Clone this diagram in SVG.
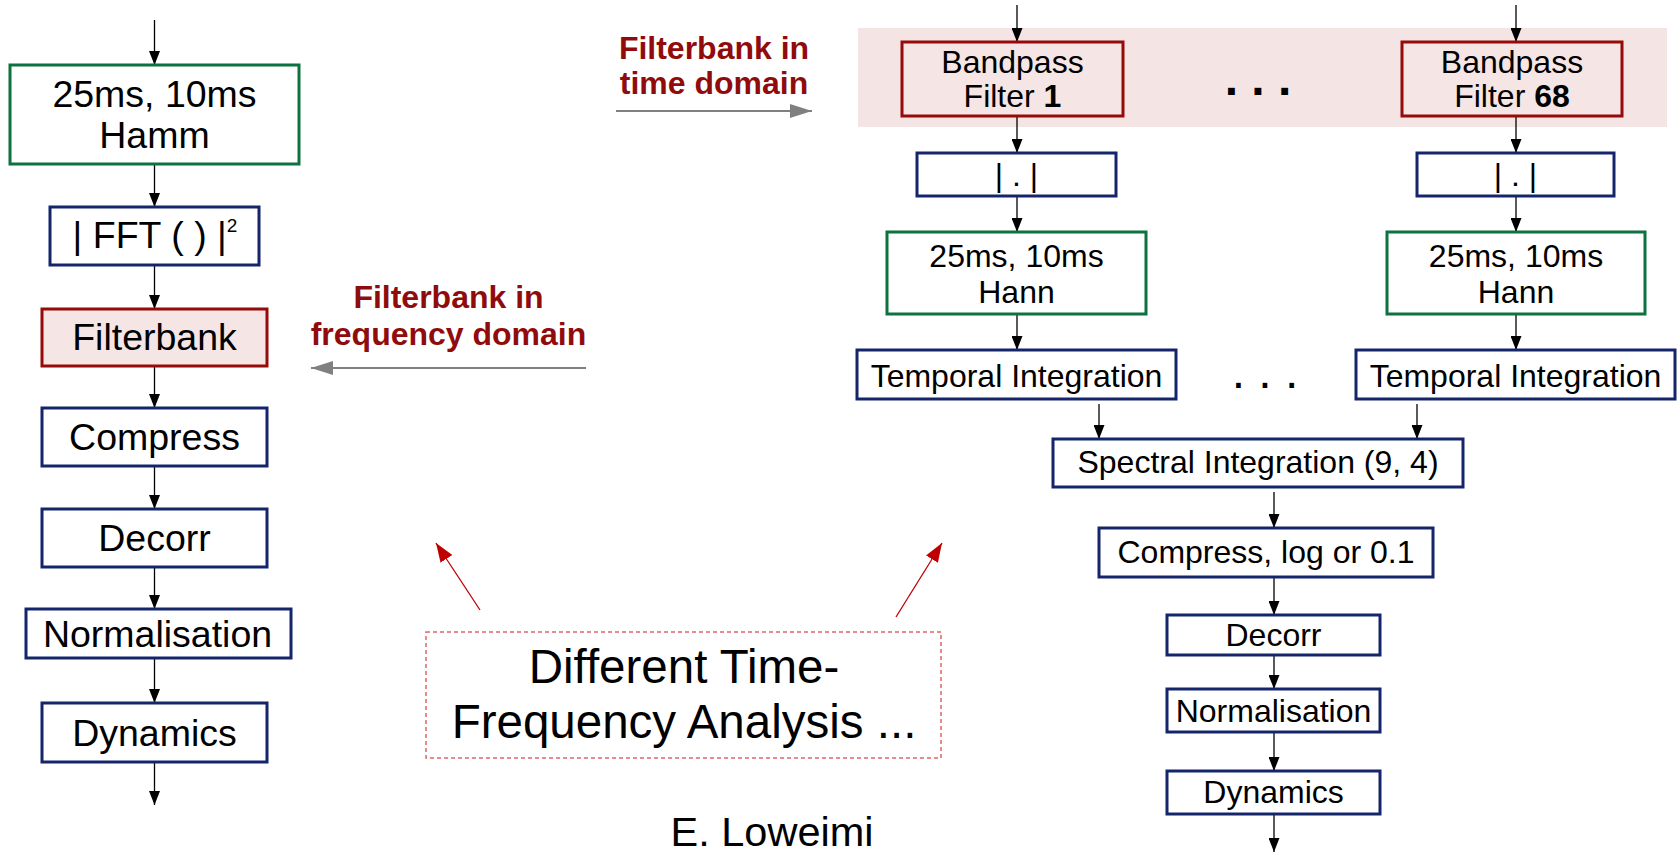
<svg xmlns="http://www.w3.org/2000/svg" width="1679" height="852" viewBox="0 0 1679 852">
<defs>
<style>
.bx{fill:#ffffff;stroke:#15256b;stroke-width:3}
.gr{fill:#ffffff;stroke:#0d7140;stroke-width:3}
.rd{fill:#f5e5e5;stroke:#960a0a;stroke-width:3}
.tl{font-family:"Liberation Sans",Arial,sans-serif;font-size:37.5px;fill:#000;text-anchor:middle}
.tr{font-family:"Liberation Sans",Arial,sans-serif;font-size:32px;fill:#000;text-anchor:middle}
.lab{font-family:"Liberation Sans",Arial,sans-serif;font-size:32px;font-weight:bold;fill:#900c0c;text-anchor:middle}
.big{font-family:"Liberation Sans",Arial,sans-serif;font-size:47.5px;fill:#000;text-anchor:middle}
.c{stroke:#000;stroke-width:1.3;fill:none;marker-end:url(#ah)}
.g{stroke:#808080;stroke-width:2;fill:none;marker-end:url(#ag)}
.r{stroke:#c00000;stroke-width:1.3;fill:none;marker-end:url(#ar)}
</style>
<marker id="ah" markerUnits="userSpaceOnUse" markerWidth="14" markerHeight="11" viewBox="0 0 14 11" refX="14" refY="5.5" orient="auto"><path d="M0,0 L14,5.5 L0,11 z" fill="#000"/></marker>
<marker id="ag" markerUnits="userSpaceOnUse" markerWidth="22" markerHeight="14" viewBox="0 0 22 14" refX="22" refY="7" orient="auto"><path d="M0,0 L22,7 L0,14 z" fill="#808080"/></marker>
<marker id="ar" markerUnits="userSpaceOnUse" markerWidth="19" markerHeight="14" viewBox="0 0 19 14" refX="19" refY="7" orient="auto"><path d="M0,0 L19,7 L0,14 z" fill="#c00000"/></marker>
</defs>
<rect width="1679" height="852" fill="#ffffff"/>

<rect id="band" x="858" y="28" width="809" height="99" fill="#f4e4e4"/>

<g id="connectors">
<line class="c" x1="154.5" y1="20" x2="154.5" y2="65"/>
<line class="c" x1="154.5" y1="164" x2="154.5" y2="207"/>
<line class="c" x1="154.5" y1="265" x2="154.5" y2="309"/>
<line class="c" x1="154.5" y1="366" x2="154.5" y2="408"/>
<line class="c" x1="154.5" y1="466" x2="154.5" y2="509"/>
<line class="c" x1="154.5" y1="567" x2="154.5" y2="609"/>
<line class="c" x1="154.5" y1="658" x2="154.5" y2="703"/>
<line class="c" x1="154.5" y1="762" x2="154.5" y2="805"/>

<line class="c" x1="1017" y1="5" x2="1017" y2="42"/>
<line class="c" x1="1017" y1="116" x2="1017" y2="153"/>
<line class="c" x1="1017" y1="196" x2="1017" y2="232"/>
<line class="c" x1="1017" y1="314" x2="1017" y2="350"/>
<line class="c" x1="1516" y1="5" x2="1516" y2="42"/>
<line class="c" x1="1516" y1="116" x2="1516" y2="153"/>
<line class="c" x1="1516" y1="196" x2="1516" y2="232"/>
<line class="c" x1="1516" y1="314" x2="1516" y2="350"/>
<line class="c" x1="1099" y1="404" x2="1099" y2="439"/>
<line class="c" x1="1417" y1="404" x2="1417" y2="439"/>
<line class="c" x1="1274" y1="492" x2="1274" y2="528"/>
<line class="c" x1="1274" y1="577" x2="1274" y2="615"/>
<line class="c" x1="1274" y1="655" x2="1274" y2="689"/>
<line class="c" x1="1274" y1="732" x2="1274" y2="771"/>
<line class="c" x1="1274" y1="814" x2="1274" y2="852"/>

<line class="g" x1="616" y1="111" x2="812" y2="111"/>
<line class="g" x1="586" y1="368" x2="311" y2="368"/>

<line class="r" x1="480" y1="610" x2="436" y2="543"/>
<line class="r" x1="896" y1="617" x2="942" y2="543"/>
</g>

<g id="hamm"><rect class="gr" x="10" y="65" width="289" height="99"/><text class="tl" x="154.5" y="107">25ms, 10ms</text><text class="tl" x="154.5" y="148">Hamm</text></g>
<g id="fft"><rect class="bx" x="50" y="207" width="209" height="58"/><text class="tl" x="155" y="248">| FFT ( ) |<tspan font-size="19" dy="-16">2</tspan></text></g>
<g id="filterbank"><rect class="rd" x="42" y="309" width="225" height="57"/><text class="tl" x="154.5" y="350">Filterbank</text></g>
<g id="compress-l"><rect class="bx" x="42" y="408" width="225" height="58"/><text class="tl" x="154.5" y="450">Compress</text></g>
<g id="decorr-l"><rect class="bx" x="42" y="509" width="225" height="58"/><text class="tl" x="154.5" y="551">Decorr</text></g>
<g id="norm-l"><rect class="bx" x="26" y="609" width="265" height="49"/><text class="tl" x="157.5" y="647">Normalisation</text></g>
<g id="dyn-l"><rect class="bx" x="42" y="703" width="225" height="59"/><text class="tl" x="154.5" y="746">Dynamics</text></g>

<g id="label-time"><text class="lab" x="714" y="59">Filterbank in</text><text class="lab" x="714" y="94">time domain</text></g>
<g id="label-freq"><text class="lab" x="448.5" y="308">Filterbank in</text><text class="lab" x="448.5" y="345">frequency domain</text></g>

<g id="bp1"><rect class="rd" x="902" y="42" width="221" height="74" fill="#f4e4e4"/><text class="tr" x="1012.5" y="73">Bandpass</text><text class="tr" x="1012.5" y="107">Filter <tspan font-weight="bold">1</tspan></text></g>
<g id="bp68"><rect class="rd" x="1402" y="42" width="220" height="74"/><text class="tr" x="1512" y="73">Bandpass</text><text class="tr" x="1512" y="107">Filter <tspan font-weight="bold">68</tspan></text></g>
<g id="dots-top"><text x="1258" y="95" font-family="Liberation Sans, Arial, sans-serif" font-size="48" font-weight="bold" text-anchor="middle">. . .</text></g>

<g id="abs1"><rect class="bx" x="917" y="153" width="199" height="43"/><text class="tr" x="1016.5" y="186">| . |</text></g>
<g id="abs68"><rect class="bx" x="1417" y="153" width="197" height="43"/><text class="tr" x="1515.5" y="186">| . |</text></g>
<g id="hann1"><rect class="gr" x="887" y="232" width="259" height="82"/><text class="tr" x="1016.5" y="267">25ms, 10ms</text><text class="tr" x="1016.5" y="303">Hann</text></g>
<g id="hann68"><rect class="gr" x="1387" y="232" width="258" height="82"/><text class="tr" x="1516" y="267">25ms, 10ms</text><text class="tr" x="1516" y="303">Hann</text></g>
<g id="ti1"><rect class="bx" x="857" y="350" width="319" height="49"/><text class="tr" x="1016.5" y="387">Temporal Integration</text></g>
<g id="ti68"><rect class="bx" x="1356" y="350" width="319" height="49"/><text class="tr" x="1515.5" y="387">Temporal Integration</text></g>
<g id="dots-mid"><text x="1265" y="388" font-family="Liberation Sans, Arial, sans-serif" font-size="48" text-anchor="middle">. . .</text></g>

<g id="spectral"><rect class="bx" x="1053" y="439" width="410" height="48"/><text class="tr" x="1258" y="473">Spectral Integration (9, 4)</text></g>
<g id="compress-r"><rect class="bx" x="1099" y="528" width="334" height="49"/><text class="tr" x="1266" y="563">Compress, log or 0.1</text></g>
<g id="decorr-r"><rect class="bx" x="1167" y="615" width="213" height="40"/><text class="tr" x="1273.5" y="646">Decorr</text></g>
<g id="norm-r"><rect class="bx" x="1167" y="689" width="213" height="43"/><text class="tr" x="1273.5" y="722">Normalisation</text></g>
<g id="dyn-r"><rect class="bx" x="1167" y="771" width="213" height="43"/><text class="tr" x="1273.5" y="803">Dynamics</text></g>

<g id="note"><rect x="426" y="632" width="515" height="126" fill="none" stroke="#e06666" stroke-width="1.5" stroke-dasharray="4 3"/><text class="big" x="684" y="683">Different Time-</text><text class="big" x="684" y="738">Frequency Analysis ...</text></g>
<g id="author"><text x="772" y="846" font-family="Liberation Sans, Arial, sans-serif" font-size="41.5" text-anchor="middle">E. Loweimi</text></g>
</svg>
